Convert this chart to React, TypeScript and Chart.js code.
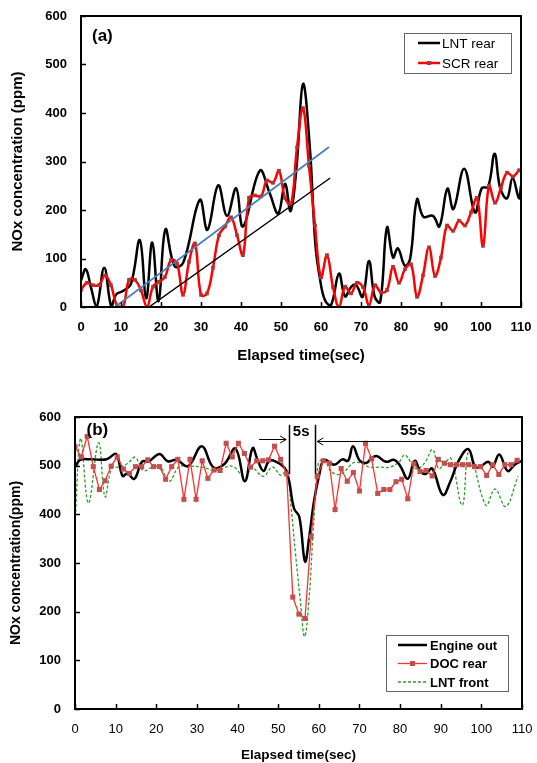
import React, { useEffect, useRef } from 'react';
import { Chart, registerables } from 'chart.js';
Chart.register(...registerables);

const FONT = '"Liberation Sans", Arial, Helvetica, sans-serif';

// ---------- Panel (a) ----------
const xTicksLabel = 'Elapsed time(sec)';
const yTitleA = 'NOx concentration (ppm)';
const yTitleB = 'NOx concentration(ppm)';

const timeLntRearA = [0, 1.2, 2.5, 3.9, 5.8, 7.6, 8.8, 10.5, 12.5, 14.7, 16.3, 17.8, 19.4, 21.1, 23.4, 25.6, 29.7, 31.6, 34.3, 36.5, 38.8, 40.5, 44.7, 47.2, 49.3, 51.0, 52.4, 53.9, 55.5, 57.2, 58.6, 59.8, 61.0, 62.5, 64.5, 66.0, 67.6, 68.8, 70.4, 72.0, 73.4, 74.8, 76.5, 78.0, 79.2, 81.0, 82.3, 84.0, 85.6, 88.0, 89.6, 91.6, 93.1, 95.8, 98.5, 100.2, 101.8, 103.4, 104.8, 106.5, 107.9, 109.5, 110];
const lntRearA = [55, 78, 40, 0, 81, 0, 26, 33, 48, 138, 18, 133, 12, 160, 84, 92, 221, 159, 251, 188, 245, 166, 281, 234, 193, 254, 198, 290, 460, 330, 128, 55, 14, 4, 69, 22, 42, 45, 21, 95, 22, 10, 164, 102, 121, 85, 100, 222, 186, 188, 166, 244, 202, 285, 195, 245, 248, 316, 245, 224, 266, 224, 250];

const timeScrRearA = [0, 1.5, 3, 4.5, 6, 7.5, 9, 10.5, 12, 13.5, 15, 16.5, 18, 19.5, 21, 22.5, 24, 25.5, 27, 28.5, 30, 31.5, 33, 34.5, 36, 37.5, 39, 40.5, 42, 43.5, 45, 46.5, 48, 49.5, 51, 52.5, 54, 55.5, 57, 58.5, 60, 61.5, 63, 64.5, 66, 67.5, 69, 70.5, 72, 73.5, 75, 76.5, 78, 79.5, 81, 82.5, 84, 85.5, 87, 88.5, 90, 91.5, 93, 94.5, 96, 97.5, 99, 100.5, 102, 103.5, 105, 106.5, 108, 109.5];
const scrRearA = [35, 50, 45, 45, 65, 45, 3, 0, 56, 56, 34, 0, 42, 52, 62, 97, 90, 25, 93, 131, 25, 28, 81, 148, 166, 185, 148, 107, 225, 230, 228, 261, 256, 281, 225, 211, 329, 410, 291, 168, 61, 107, 41, 0, 42, 28, 50, 41, 4, 45, 30, 35, 83, 50, 78, 88, 21, 65, 123, 64, 102, 168, 157, 178, 168, 195, 225, 126, 250, 215, 246, 277, 269, 282];

const blueTrendX = [8.5, 62];
const blueTrendY = [0, 330];
const blackTrendX = [17, 62.3];
const blackTrendY = [0, 266];

// ---------- Panel (b) ----------
const timeEngineB = [0, 1.3, 4, 7.8, 10.1, 11.7, 12.9, 14.6, 16.5, 18.2, 20.8, 22.8, 25, 27.8, 31.2, 34, 36.7, 39.5, 41.8, 43.7, 45, 46.4, 47.6, 49, 51.9, 53.9, 55.2, 56.6, 57.6, 58.8, 60.1, 61.3, 63.8, 65.8, 67.2, 68.4, 70.1, 71.8, 72.8, 74.2, 76.5, 78.5, 80, 81.9, 83.6, 85, 86.3, 87.9, 90.5, 92.4, 94.4, 96.8, 98.5, 100, 101.7, 102.8, 104.4, 106.5, 108.2, 110];
const engineOut = [498, 512, 513, 513, 524, 479, 484, 473, 508, 509, 524, 509, 512, 499, 540, 497, 503, 535, 468, 536, 510, 489, 508, 510, 491, 412, 395, 303, 351, 426, 481, 512, 502, 513, 510, 540, 510, 506, 514, 520, 508, 512, 500, 473, 510, 488, 483, 494, 440, 468, 510, 534, 497, 500, 508, 498, 523, 489, 502, 510];

const timeDocB = [0, 1.5, 3, 4.5, 6, 7.4, 8.9, 10.4, 11.9, 13.4, 14.9, 16.4, 17.9, 19.3, 20.8, 22.3, 23.8, 25.3, 26.8, 28.3, 29.8, 31.3, 32.7, 34.2, 35.7, 37.2, 38.7, 40.2, 41.7, 43.2, 44.7, 46.2, 47.6, 49.1, 50.6, 52.1, 53.6, 55.1, 56.6, 58.1, 59.6, 61.1, 62.6, 64.0, 65.5, 67.0, 68.5, 70.0, 71.5, 73.0, 74.5, 76.0, 77.5, 79.0, 80.4, 81.9, 83.4, 84.9, 86.4, 87.9, 89.4, 90.9, 92.4, 93.9, 95.4, 96.9, 98.3, 99.8, 101.3, 102.8, 104.3, 105.8, 107.3, 108.8];
const docRear = [539, 518, 560, 498, 451, 469, 499, 518, 493, 484, 498, 498, 512, 498, 498, 472, 498, 513, 431, 513, 431, 510, 474, 491, 490, 546, 518, 546, 525, 497, 510, 510, 512, 540, 513, 483, 230, 195, 186, 354, 478, 510, 505, 410, 494, 468, 486, 448, 546, 514, 443, 451, 451, 467, 472, 432, 504, 488, 490, 479, 513, 505, 502, 502, 502, 502, 498, 498, 480, 502, 482, 502, 502, 511];

const timeLntFrontB = [0, 1.4, 3.3, 5.8, 7.4, 9.1, 11.2, 13, 14.8, 16.8, 19, 20.8, 23.2, 25.5, 27.7, 31.2, 34.7, 38.6, 41.9, 43.5, 46.3, 48.6, 50.7, 52.1, 53.2, 54.3, 55.4, 56.5, 57.6, 58.7, 59.9, 61.3, 63.2, 65.5, 68.5, 70.5, 72.4, 74.9, 77.5, 79.8, 81.2, 83.9, 86, 88, 89.5, 91, 92.5, 95.3, 97, 101.1, 103.4, 106, 109];
const lntFront = [385, 556, 423, 547, 436, 495, 497, 505, 517, 490, 497, 500, 468, 497, 499, 497, 490, 499, 476, 496, 478, 497, 480, 491, 412, 316, 227, 149, 227, 378, 505, 512, 487, 483, 506, 505, 497, 497, 497, 508, 522, 494, 505, 533, 494, 505, 515, 419, 530, 419, 452, 416, 478];

// annotation values (panel b)
const markStart = 52.7;
const markEnd = 59;
const markTop = 584;
const markBottom = 483;
const arrow1From = 45.3;
const arrow1Level = 554;
const arrow2To = 59.6;
const arrow2Level = 551;
const label5s = { t: 55.65, v: 569, text: '5s' };
const label55s = { t: 83.2, v: 571, text: '55s' };

const xy = (xs: number[], ys: number[]) => xs.map((x, i) => ({ x, y: ys[i] }));

function frameAndTicks(chart: any) {
  const { ctx, chartArea: a, scales } = chart;
  const xs = scales.x;
  const ys = scales.y;
  ctx.save();
  ctx.strokeStyle = '#000';
  ctx.lineWidth = 1.5;
  ctx.beginPath();
  xs.ticks.forEach((t: any) => {
    const p = Math.round(xs.getPixelForValue(t.value)) + 0.5;
    ctx.moveTo(p, a.bottom);
    ctx.lineTo(p, a.bottom - 5);
  });
  ys.ticks.forEach((t: any) => {
    const p = Math.round(ys.getPixelForValue(t.value)) + 0.5;
    ctx.moveTo(a.left, p);
    ctx.lineTo(a.left + 5, p);
  });
  ctx.stroke();
  ctx.lineWidth = 2;
  ctx.strokeRect(a.left, a.top, a.right - a.left, a.bottom - a.top);
  ctx.restore();
}

type LegItem = { label: string; color: string; width: number; dash?: number[]; marker?: string; markerSize?: number };

function drawLegend(ctx: CanvasRenderingContext2D, box: { x0: number; y0: number; x1: number; y1: number }, rows: number[], lx0: number, lx1: number, tx: number, items: LegItem[], font: string) {
  ctx.save();
  ctx.fillStyle = '#fff';
  ctx.fillRect(box.x0, box.y0, box.x1 - box.x0, box.y1 - box.y0);
  ctx.strokeStyle = '#666';
  ctx.lineWidth = 1;
  ctx.strokeRect(box.x0 + 0.5, box.y0 + 0.5, box.x1 - box.x0, box.y1 - box.y0);
  items.forEach((it, i) => {
    const y = rows[i];
    ctx.strokeStyle = it.color;
    ctx.lineWidth = it.width;
    ctx.setLineDash(it.dash || []);
    ctx.beginPath();
    ctx.moveTo(lx0, y);
    ctx.lineTo(lx1, y);
    ctx.stroke();
    ctx.setLineDash([]);
    if (it.marker) {
      const s = it.markerSize || 4;
      ctx.fillStyle = it.marker;
      ctx.fillRect((lx0 + lx1) / 2 - s / 2, y - s / 2, s, s);
    }
    ctx.fillStyle = '#000';
    ctx.font = font;
    ctx.textAlign = 'left';
    ctx.textBaseline = 'middle';
    ctx.fillText(it.label, tx, y + 1);
  });
  ctx.restore();
}

const pluginA = {
  id: 'panelA',
  afterDraw(chart: any) {
    frameAndTicks(chart);
    const { ctx, chartArea: a } = chart;
    ctx.save();
    ctx.fillStyle = '#000';
    ctx.font = `bold 17px ${FONT}`;
    ctx.textAlign = 'left';
    ctx.textBaseline = 'middle';
    ctx.fillText('(a)', a.left + 11, a.top + 20);
    ctx.restore();
    drawLegend(ctx, { x0: 404, y0: 33, x1: 511, y1: 73 }, [43, 63], 418, 440, 442,
      [
        { label: 'LNT rear', color: '#000', width: 2.5 },
        { label: 'SCR rear', color: '#ff0000', width: 2.5, marker: '#b83030', markerSize: 4 },
      ], `13.5px ${FONT}`);
  },
};

function arrowHead(ctx: CanvasRenderingContext2D, x: number, y: number, dir: number) {
  ctx.beginPath();
  ctx.moveTo(x - dir * 6, y - 3.5);
  ctx.lineTo(x, y);
  ctx.lineTo(x - dir * 6, y + 3.5);
  ctx.stroke();
}

const pluginB = {
  id: 'panelB',
  afterDraw(chart: any) {
    frameAndTicks(chart);
    const { ctx, chartArea: a, scales } = chart;
    const xs = scales.x;
    const ys = scales.y;
    ctx.save();
    ctx.strokeStyle = '#000';
    ctx.fillStyle = '#000';
    ctx.lineWidth = 1.5;
    const yT = ys.getPixelForValue(markTop);
    const yB = ys.getPixelForValue(markBottom);
    [markStart, markEnd].forEach((t) => {
      const p = Math.round(xs.getPixelForValue(t)) + 0.5;
      ctx.beginPath();
      ctx.moveTo(p, yT);
      ctx.lineTo(p, yB);
      ctx.stroke();
    });
    ctx.lineWidth = 1;
    const y1 = Math.round(ys.getPixelForValue(arrow1Level)) + 0.5;
    const ax0 = xs.getPixelForValue(arrow1From);
    const ax1 = xs.getPixelForValue(markStart) - 3;
    ctx.beginPath();
    ctx.moveTo(ax0, y1);
    ctx.lineTo(ax1, y1);
    ctx.stroke();
    arrowHead(ctx, ax1, y1, 1);
    const y2 = Math.round(ys.getPixelForValue(arrow2Level)) + 0.5;
    const bx0 = xs.getPixelForValue(arrow2To);
    ctx.beginPath();
    ctx.moveTo(bx0, y2);
    ctx.lineTo(a.right, y2);
    ctx.stroke();
    arrowHead(ctx, bx0, y2, -1);
    ctx.font = `bold 15px ${FONT}`;
    ctx.textAlign = 'center';
    ctx.textBaseline = 'middle';
    [label5s, label55s].forEach((l) => ctx.fillText(l.text, xs.getPixelForValue(l.t), ys.getPixelForValue(l.v)));
    ctx.font = `bold 17px ${FONT}`;
    ctx.textAlign = 'left';
    ctx.fillText('(b)', a.left + 11.5, a.top + 13);
    ctx.restore();
    drawLegend(ctx, { x0: 386, y0: 255, x1: 508, y1: 311 }, [265, 283.5, 302], 398, 427, 430,
      [
        { label: 'Engine out', color: '#000', width: 2.5 },
        { label: 'DOC rear', color: '#ff3030', width: 1.3, marker: '#c0504d', markerSize: 5 },
        { label: 'LNT front', color: '#2e9a2e', width: 1.3, dash: [3, 2] },
      ], `bold 13px ${FONT}`);
  },
};

function axisFont(size: number, bold: boolean) {
  return { family: FONT, size, weight: bold ? 'bold' : 'normal' } as any;
}

const fitX = (h: number) => (s: any) => { s.height = h; s.paddingLeft = 0; s.paddingRight = 0; };
const fitY = (w: number) => (s: any) => { s.width = w; s.paddingTop = 0; s.paddingBottom = 0; };

export default function App() {
  const refA = useRef<HTMLCanvasElement>(null);
  const refB = useRef<HTMLCanvasElement>(null);

  useEffect(() => {
    const chartA = new Chart(refA.current as HTMLCanvasElement, {
      type: 'line',
      data: {
        datasets: [
          { label: 'trend blue', data: xy(blueTrendX, blueTrendY), borderColor: '#4a7ebb', borderWidth: 1.8, pointRadius: 0, tension: 0 },
          { label: 'trend black', data: xy(blackTrendX, blackTrendY), borderColor: '#000', borderWidth: 1.5, pointRadius: 0, tension: 0 },
          { label: 'SCR rear', data: xy(timeScrRearA, scrRearA), borderColor: '#ff0000', borderWidth: 2.5, pointRadius: 2.6, pointStyle: 'rect', pointBackgroundColor: '#b83030', pointBorderColor: '#b83030', pointBorderWidth: 0, tension: 0.4 },
          { label: 'LNT rear', data: xy(timeLntRearA, lntRearA), borderColor: '#000', borderWidth: 2.5, pointRadius: 0, tension: 0.4 },
        ],
      },
      options: {
        responsive: false,
        animation: false,
        devicePixelRatio: 1,
        layout: { padding: { left: 0, right: 16, top: 16, bottom: 0 } },
        plugins: { legend: { display: false }, tooltip: { enabled: false } },
        scales: {
          x: {
            type: 'linear', min: 0, max: 110,
            afterFit: fitX(73),
            grid: { display: false, drawTicks: false },
            border: { display: false },
            ticks: { stepSize: 10, padding: 13, color: '#000', font: axisFont(13, true), maxRotation: 0, autoSkip: false },
            title: { display: true, text: xTicksLabel, color: '#000', font: axisFont(15, true), padding: { top: 0, bottom: 15 } },
          },
          y: {
            type: 'linear', min: 0, max: 600,
            afterFit: fitY(81),
            grid: { display: false, drawTicks: false },
            border: { display: false },
            ticks: { stepSize: 100, padding: 14, color: '#000', font: axisFont(13, true) },
            title: { display: true, text: yTitleA, color: '#000', font: axisFont(15, true), padding: { top: 9, bottom: 0 } },
          },
        },
      } as any,
      plugins: [pluginA],
    });

    const chartB = new Chart(refB.current as HTMLCanvasElement, {
      type: 'line',
      data: {
        datasets: [
          { label: 'DOC rear', data: xy(timeDocB, docRear), borderColor: '#ff3030', borderWidth: 1.3, pointRadius: 3.6, pointStyle: 'rect', pointBackgroundColor: '#c0504d', pointBorderColor: '#c0504d', pointBorderWidth: 0, tension: 0 },
          { label: 'Engine out', data: xy(timeEngineB, engineOut), borderColor: '#000', borderWidth: 2.5, pointRadius: 0, tension: 0.4 },
          { label: 'LNT front', data: xy(timeLntFrontB, lntFront), borderColor: '#2e9a2e', borderWidth: 1.3, borderDash: [3, 2], pointRadius: 0, tension: 0.4 },
        ],
      },
      options: {
        responsive: false,
        animation: false,
        devicePixelRatio: 1,
        layout: { padding: { left: 0, right: 15, top: 37, bottom: 0 } },
        plugins: { legend: { display: false }, tooltip: { enabled: false } },
        scales: {
          x: {
            type: 'linear', min: 0, max: 110,
            afterFit: fitX(54),
            grid: { display: false, drawTicks: false },
            border: { display: false },
            ticks: { stepSize: 10, padding: 13, color: '#000', font: axisFont(13, false), maxRotation: 0, autoSkip: false },
            title: { display: true, text: xTicksLabel, color: '#000', font: axisFont(13.5, true), padding: { top: 0, bottom: 0 } },
          },
          y: {
            type: 'linear', min: 0, max: 600,
            afterFit: fitY(75),
            grid: { display: false, drawTicks: false },
            border: { display: false },
            ticks: { stepSize: 100, padding: 14, color: '#000', font: axisFont(13, true) },
            title: { display: true, text: yTitleB, color: '#000', font: axisFont(14, true), padding: { top: 8, bottom: 0 } },
          },
        },
      } as any,
      plugins: [pluginB],
    });

    return () => {
      chartA.destroy();
      chartB.destroy();
    };
  }, []);

  return (
    <div style={{ position: 'absolute', left: 0, top: 0, width: 537, height: 763, background: '#fff', overflow: 'hidden' }}>
      <canvas ref={refA} width={537} height={380} style={{ position: 'absolute', left: 0, top: 0 }} />
      <canvas ref={refB} width={537} height={383} style={{ position: 'absolute', left: 0, top: 380 }} />
    </div>
  );
}
